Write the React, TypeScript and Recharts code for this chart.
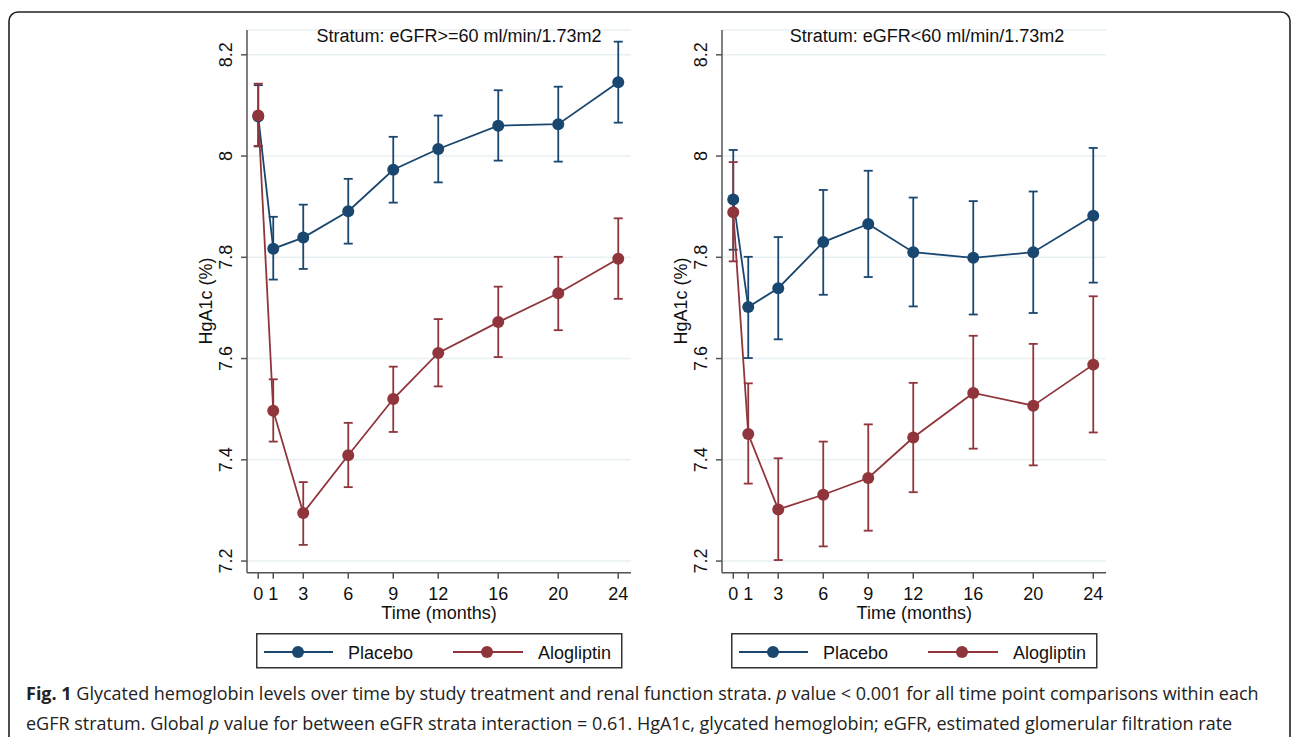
import React from 'react';
import { LineChart, Line, XAxis, YAxis, CartesianGrid, ErrorBar } from 'recharts';

const months = [0, 1, 3, 6, 9, 12, 16, 20, 24];
const yTicks = [7.2, 7.4, 7.6, 7.8, 8.0, 8.2];
const seriesNames = ['Placebo', 'Alogliptin'];
const panelTitles = ['Stratum: eGFR>=60 ml/min/1.73m2', 'Stratum: eGFR<60 ml/min/1.73m2'];
const xTitle = 'Time (months)';
const yTitle = 'HgA1c (%)';

// eGFR >= 60
const hiPlaceboMean = [8.078, 7.817, 7.839, 7.891, 7.973, 8.014, 8.060, 8.063, 8.146];
const hiPlaceboLow = [8.019, 7.756, 7.777, 7.827, 7.908, 7.948, 7.991, 7.989, 8.066];
const hiPlaceboHigh = [8.140, 7.880, 7.904, 7.955, 8.038, 8.080, 8.130, 8.137, 8.226];
const hiAloMean = [8.080, 7.497, 7.295, 7.409, 7.520, 7.611, 7.672, 7.729, 7.797];
const hiAloLow = [8.020, 7.436, 7.232, 7.346, 7.455, 7.545, 7.603, 7.656, 7.718];
const hiAloHigh = [8.143, 7.559, 7.356, 7.473, 7.584, 7.678, 7.742, 7.801, 7.877];

// eGFR < 60
const loPlaceboMean = [7.914, 7.702, 7.739, 7.830, 7.866, 7.810, 7.799, 7.810, 7.882];
const loPlaceboLow = [7.815, 7.601, 7.638, 7.726, 7.761, 7.703, 7.687, 7.690, 7.750];
const loPlaceboHigh = [8.012, 7.801, 7.840, 7.933, 7.971, 7.918, 7.911, 7.930, 8.016];
const loAloMean = [7.889, 7.451, 7.302, 7.331, 7.364, 7.444, 7.532, 7.507, 7.588];
const loAloLow = [7.792, 7.353, 7.202, 7.229, 7.260, 7.336, 7.422, 7.389, 7.454];
const loAloHigh = [7.988, 7.551, 7.403, 7.436, 7.470, 7.552, 7.645, 7.629, 7.723];

const BLUE = '#1a476f';
const RED = '#90353b';
const AXIS = '#555';
const TEXT = '#111';
const FONT = '"Liberation Sans", Arial, sans-serif';

function buildRows(pm: number[], pl: number[], ph: number[], am: number[], al: number[], ah: number[]) {
  return months.map((m, i) => ({
    month: m,
    placebo: pm[i],
    placeboErr: [pm[i] - pl[i], ph[i] - pm[i]],
    alogliptin: am[i],
    alogliptinErr: [am[i] - al[i], ah[i] - am[i]],
  }));
}

const leftData = buildRows(hiPlaceboMean, hiPlaceboLow, hiPlaceboHigh, hiAloMean, hiAloLow, hiAloHigh);
const rightData = buildRows(loPlaceboMean, loPlaceboLow, loPlaceboHigh, loAloMean, loAloLow, loAloHigh);

const XTick = (props: any) => {
  const { x, y, payload } = props;
  return (
    <text x={x} y={y + 19.5} textAnchor="middle" fontSize={18} fontFamily={FONT} fill={TEXT}>
      {payload.value}
    </text>
  );
};

const YTick = (props: any) => {
  const { x, y, payload } = props;
  const cx = x - 13;
  const v = Number(payload.value);
  const label = Number.isInteger(v) ? String(v) : String(Math.round(v * 10) / 10);
  return (
    <text
      x={cx}
      y={y}
      dy="0.36em"
      transform={`rotate(-90, ${cx}, ${y})`}
      textAnchor="middle"
      fontSize={18}
      fontFamily={FONT}
      fill={TEXT}
    >
      {label}
    </text>
  );
};

function Panel({ data, plotLeft, title, titleCx }: { data: any[]; plotLeft: number; title: string; titleCx: number }) {
  const yAxisW = 77;
  const chartLeft = plotLeft - yAxisW;
  return (
    <>
      <div style={{ position: 'absolute', left: chartLeft, top: 0 }}>
        <LineChart
          width={480}
          height={620}
          data={data}
          margin={{ top: 30, right: 19, left: 0, bottom: 17.3 }}
        >
          <CartesianGrid vertical={false} stroke="#e8f0f2" strokeWidth={1.5} />
          <XAxis
            dataKey="month"
            type="number"
            domain={[-0.75, 24.85]}
            ticks={months}
            interval={0}
            height={30}
            tick={<XTick />}
            tickSize={6}
            tickMargin={2}
            stroke={AXIS}
            strokeWidth={1.5}
            allowDataOverflow
          />
          <YAxis
            type="number"
            domain={[7.177, 8.249]}
            ticks={yTicks}
            interval={0}
            width={yAxisW}
            tick={<YTick />}
            tickSize={6}
            tickMargin={2}
            stroke={AXIS}
            strokeWidth={1.5}
            allowDataOverflow
          />
          <Line
            dataKey="placebo"
            stroke={BLUE}
            strokeWidth={1.8}
            dot={{ r: 6, fill: BLUE, stroke: BLUE, strokeWidth: 0 }}
            isAnimationActive={false}
          >
            <ErrorBar dataKey="placeboErr" width={4.5} stroke={BLUE} strokeWidth={1.8} direction="y" />
          </Line>
          <Line
            dataKey="alogliptin"
            stroke={RED}
            strokeWidth={1.8}
            dot={{ r: 6, fill: RED, stroke: RED, strokeWidth: 0 }}
            isAnimationActive={false}
          >
            <ErrorBar dataKey="alogliptinErr" width={4.5} stroke={RED} strokeWidth={1.8} direction="y" />
          </Line>
        </LineChart>
      </div>
      <div
        style={{
          position: 'absolute',
          left: titleCx - 200,
          width: 400,
          top: 25,
          textAlign: 'center',
          fontFamily: FONT,
          fontSize: 18,
          color: TEXT,
          lineHeight: '22px',
        }}
      >
        {title}
      </div>
      <div
        style={{
          position: 'absolute',
          left: plotLeft,
          width: 384,
          top: 605,
          textAlign: 'center',
          fontFamily: FONT,
          fontSize: 18,
          color: TEXT,
          lineHeight: '17px',
        }}
      >
        {xTitle}
      </div>
      <svg style={{ position: 'absolute', left: plotLeft - 60, top: 200 }} width={40} height={200}>
        <text
          x={19}
          y={101}
          dy="0.36em"
          transform="rotate(-90, 19, 101)"
          textAnchor="middle"
          fontSize={18}
          fontFamily={FONT}
          fill={TEXT}
        >
          {yTitle}
        </text>
      </svg>
      <svg style={{ position: 'absolute', left: plotLeft + 9, top: 633 }} width={368} height={36}>
        <rect x={0.75} y={0.75} width={365} height={34} fill="#fff" stroke="#333" strokeWidth={1.5} />
        <line x1={8} y1={19} x2={77} y2={19} stroke={BLUE} strokeWidth={1.8} />
        <circle cx={42} cy={19} r={6} fill={BLUE} />
        <text x={92} y={25.5} fontSize={18} fontFamily={FONT} fill={TEXT}>{seriesNames[0]}</text>
        <line x1={197} y1={19} x2={267} y2={19} stroke={RED} strokeWidth={1.8} />
        <circle cx={231} cy={19} r={6} fill={RED} />
        <text x={282} y={25.5} fontSize={18} fontFamily={FONT} fill={TEXT}>{seriesNames[1]}</text>
      </svg>
    </>
  );
}

export default function App() {
  return (
    <div style={{ position: 'absolute', left: 0, top: 0, width: 1292, height: 737, background: '#fff', overflow: 'hidden' }}>
      <svg style={{ position: 'absolute', left: 0, top: 0 }} width={1292} height={737}>
        <rect x={9} y={12} width={1281} height={740} rx={9} ry={9} fill="#fff" stroke="#222" strokeWidth={1.6} />
      </svg>
      <Panel data={leftData} plotLeft={247} title={panelTitles[0]} titleCx={459} />
      <Panel data={rightData} plotLeft={722.3} title={panelTitles[1]} titleCx={927} />
      <div
        style={{
          position: 'absolute',
          left: 26,
          top: 678,
          width: 1262,
          fontFamily: '"Open Sans", sans-serif',
          fontSize: 18,
          lineHeight: '30px',
          color: '#222',
          whiteSpace: 'nowrap',
        }}
      >
        <div>
          <b>Fig. 1</b> Glycated hemoglobin levels over time by study treatment and renal function strata. <i>p</i> value &lt; 0.001 for all time point comparisons within each
        </div>
        <div>
          eGFR stratum. Global <i>p</i> value for between eGFR strata interaction = 0.61. HgA1c, glycated hemoglobin; eGFR, estimated glomerular filtration rate
        </div>
      </div>
    </div>
  );
}
